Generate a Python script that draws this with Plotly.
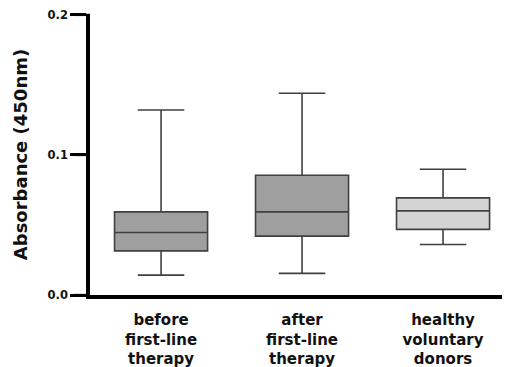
import plotly.graph_objects as go

categories = ["before<br>first-line<br>therapy", "after<br>first-line<br>therapy", "healthy<br>voluntary<br>donors"]
positions = [0, 1, 2]
lower_whisker = [0.0142, 0.0154, 0.0360]
q1 = [0.0315, 0.0420, 0.0468]
median = [0.0446, 0.0593, 0.0600]
q3 = [0.0593, 0.0854, 0.0693]
upper_whisker = [0.1320, 0.1440, 0.0897]
fill_colors = ["#9f9f9f", "#9f9f9f", "#d4d4d4"]
y_ticks = [0.0, 0.1, 0.2]
y_ticktext = ["0.0", "0.1", "0.2"]

fig = go.Figure()
for i in range(3):
    fig.add_trace(go.Box(
        x=[positions[i]],
        q1=[q1[i]], median=[median[i]], q3=[q3[i]],
        lowerfence=[lower_whisker[i]], upperfence=[upper_whisker[i]],
        width=0.66, whiskerwidth=0.5,
        fillcolor=fill_colors[i],
        line=dict(color="#404040", width=1.6),
        boxpoints=False, showlegend=False, hoverinfo="skip",
    ))

def bold_lines(s):
    return "<br>".join("<b>%s</b>" % p for p in s.split("<br>"))

FONT = "DejaVu Sans, Liberation Sans, Arial, sans-serif"
PLOT_W = 420
TICK_LEN = 16
Y_RANGE = [0, 0.2005]

# page body has an 8px margin, so the figure is 8px smaller than the window
fig.update_layout(
    template="simple_white",
    width=502, height=359,
    margin=dict(l=82, r=0, t=6, b=72),
    plot_bgcolor="white", paper_bgcolor="white",
    font=dict(family=FONT, color="black"),
    xaxis=dict(
        range=[-0.504, 2.475], showgrid=False, zeroline=False, automargin=False,
        showline=True, linecolor="black", linewidth=4,
        tickmode="array", tickvals=positions, ticktext=[bold_lines(c) for c in categories],
        ticks="", tickfont=dict(size=15, color="#111111"),
        ticklabelstandoff=8,
    ),
    yaxis=dict(
        range=Y_RANGE, showgrid=False, zeroline=False, automargin=False,
        showline=True, linecolor="black", linewidth=3.5,
        tickmode="array", tickvals=y_ticks, ticktext=["<b>%s</b>" % t for t in y_ticktext],
        ticks="outside", ticklen=TICK_LEN, tickwidth=3, tickcolor="black",
        tickfont=dict(size=11.5, color="#111111"),
        ticklabeloverflow="allow",
        title=dict(text="<b>Absorbance (450nm)</b>", font=dict(size=18, color="#111111"), standoff=16),
    ),
)

# explicit tick marks on the y axis, placed in paper coordinates so they are not clipped
for v in y_ticks:
    yp = (v - Y_RANGE[0]) / (Y_RANGE[1] - Y_RANGE[0])
    fig.add_shape(type="line", xref="paper", yref="paper",
                  x0=-TICK_LEN / PLOT_W, x1=0, y0=yp, y1=yp,
                  line=dict(color="black", width=3), layer="above")

fig.write_html("out.html")
